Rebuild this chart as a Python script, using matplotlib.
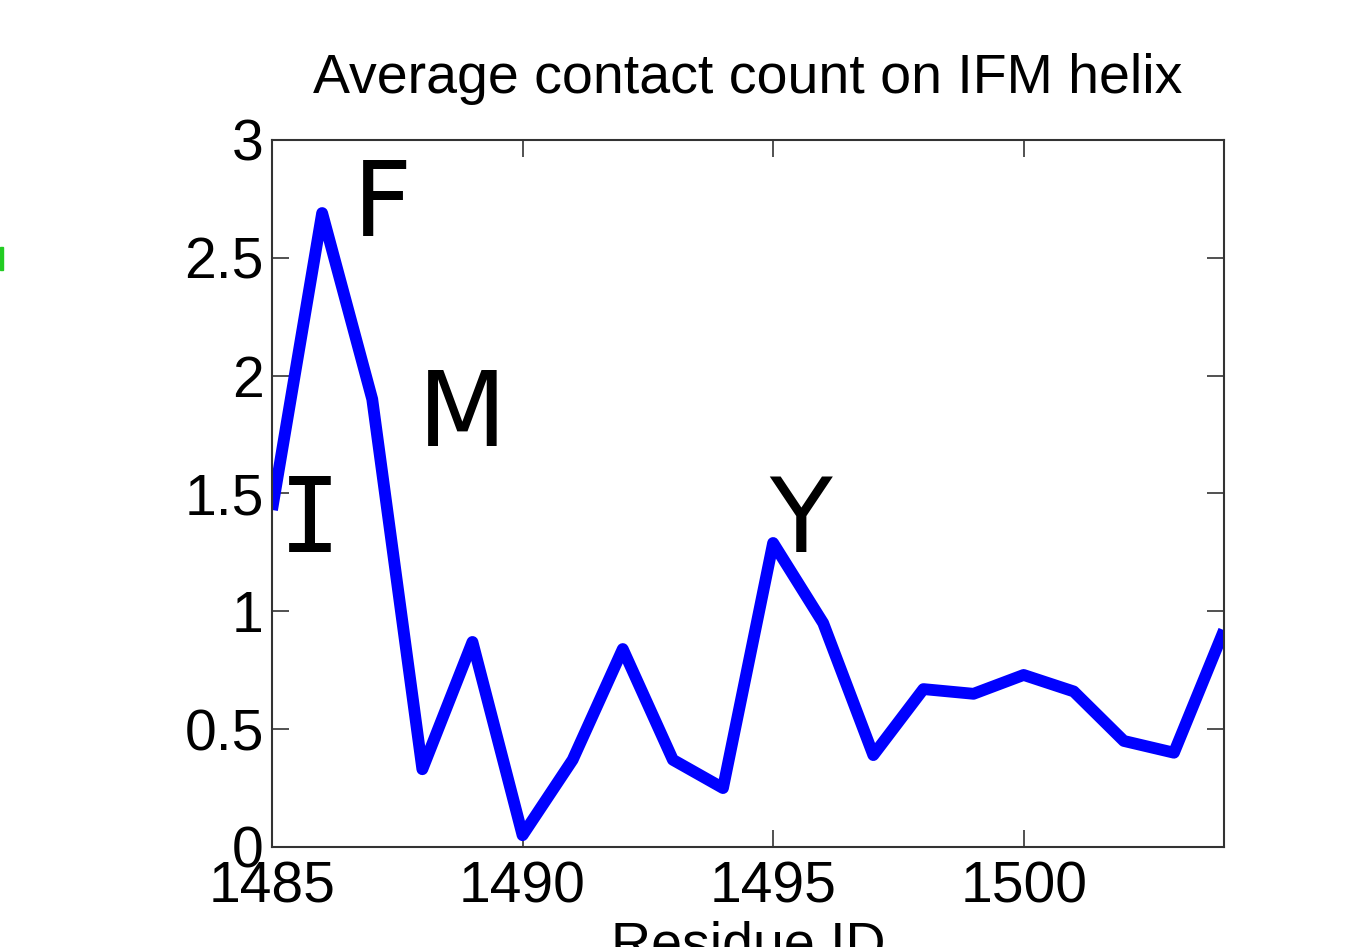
import matplotlib.pyplot as plt
from matplotlib.patches import Rectangle

# contact count per residue on the IFM helix
residues = list(range(1485, 1505))
contacts = [1.43, 2.69, 1.90, 0.33, 0.87, 0.05, 0.37, 0.84, 0.37, 0.25,
            1.29, 0.95, 0.39, 0.67, 0.65, 0.73, 0.66, 0.45, 0.40, 0.92]

letters = ['I', 'F', 'M', 'Y']
letter_x = [1485.75, 1487.2, 1488.8, 1495.55]
letter_y = [1.16, 2.50, 1.61, 1.16]
letter_font = ['DejaVu Sans Mono', 'DejaVu Sans', 'DejaVu Sans', 'DejaVu Sans']

xticks = [1485, 1490, 1495, 1500]
yticks = [0, 0.5, 1, 1.5, 2, 2.5, 3]

plt.rcParams['font.family'] = ['Liberation Sans', 'DejaVu Sans']

fig = plt.figure(figsize=(13.46, 9.47), dpi=100)
ax = fig.add_axes([0.2021, 0.1056, 0.7073, 0.7466])

ax.plot(residues, contacts, color='#0000ff', linewidth=8.5,
        solid_joinstyle='round', solid_capstyle='butt')

for t, x, y, f in zip(letters, letter_x, letter_y, letter_font):
    ax.text(x, y, t, fontsize=74, family=f, ha='center', va='bottom', color='black')

ax.set_xlim(1485, 1504)
ax.set_ylim(0, 3)
ax.set_xticks(xticks)
ax.set_yticks(yticks)
ax.set_yticklabels(['0', '0.5', '1', '1.5', '2', '2.5', '3'])
ax.tick_params(direction='in', length=12, width=1.2, labelsize=41, top=True, right=True,
               color='#333333')
ax.tick_params(axis='x', pad=10)
ax.tick_params(axis='y', pad=6)
for s in ax.spines.values():
    s.set_linewidth(1.5)
    s.set_color('#333333')

ax.set_title('Average contact count on IFM helix', fontsize=40, pad=34)
ax.set_xlabel('Residue ID', fontsize=40, labelpad=4)

# little green mark at the left edge
fig.patches.append(Rectangle((0, 0.715), 0.0022, 0.024, transform=fig.transFigure,
                             color='#22cc22', figure=fig))

fig.savefig('out.png', dpi=100)
